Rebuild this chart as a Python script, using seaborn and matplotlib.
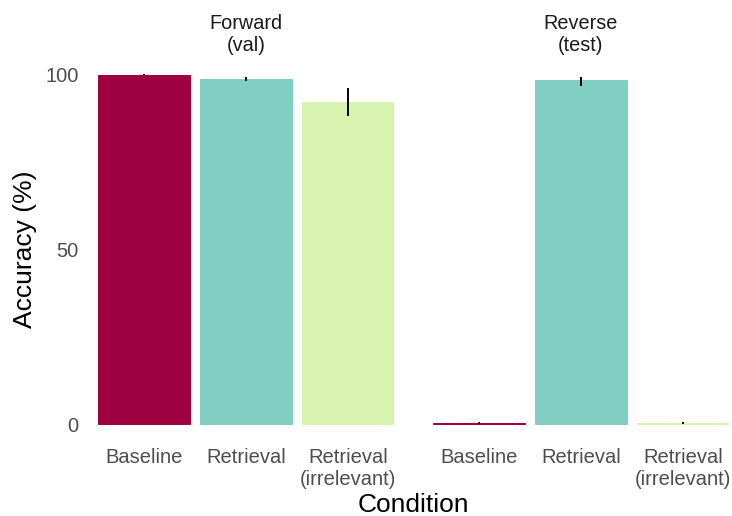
import matplotlib
matplotlib.use("Agg")
import matplotlib.pyplot as plt
import seaborn as sns
import pandas as pd
import numpy as np

sns.set_theme(style="white")
plt.rcParams["font.family"] = ["Liberation Sans", "DejaVu Sans"]

# Data
splits = ["Forward\n(val)", "Reverse\n(test)"]
conditions = ["Baseline", "Retrieval", "Retrieval\n(irrelevant)"]
forward_acc = [100.0, 98.8, 92.2]
forward_lo = [99.9, 98.4, 88.2]
forward_hi = [100.2, 99.5, 96.3]
reverse_acc = [0.3, 98.6, 0.3]
reverse_lo = [0.1, 96.9, 0.0]
reverse_hi = [0.5, 99.5, 0.7]
palette = ["#9F003F", "#81CFC2", "#D8F4B0"]

means = [forward_acc, reverse_acc]
lows = [forward_lo, reverse_lo]
highs = [forward_hi, reverse_hi]

W, H = 732, 516
fig = plt.figure(figsize=(W / 100, H / 100), dpi=100)

unit = 102.0
xlim = (-0.45, 2.45)
panel_w = (xlim[1] - xlim[0]) * unit
panel_lefts = [98.0, 433.0]
y_top_px, y_bot_px = 57.5, 441.5

for i, split in enumerate(splits):
    ax = fig.add_axes([panel_lefts[i] / W, (H - y_bot_px) / H,
                       panel_w / W, (y_bot_px - y_top_px) / H])
    df = pd.DataFrame({"Condition": conditions, "Accuracy": means[i]})
    sns.barplot(data=df, x="Condition", y="Accuracy", hue="Condition",
                order=conditions, hue_order=conditions, palette=palette,
                errorbar=None, width=0.9, legend=False, ax=ax,
                saturation=1, linewidth=0)
    # a hairline outline in the fill colour keeps near-zero bars visible
    for p in ax.patches:
        p.set_edgecolor(p.get_facecolor())
        p.set_linewidth(0.7)
    xs = np.arange(len(conditions))
    ax.vlines(xs, lows[i], highs[i], color="black", linewidth=1.4, zorder=3)
    ax.set_xlim(*xlim)
    ax.set_ylim(-5, 105)
    ax.set_yticks([0, 50, 100])
    ax.set_xlabel("")
    ax.set_ylabel("")
    for s in ax.spines.values():
        s.set_visible(False)
    ax.tick_params(axis="x", length=0, pad=5, labelsize=14.5, colors="#4D4D4D")
    ax.tick_params(axis="y", length=0, pad=14, labelsize=14.5, colors="#4D4D4D")
    ax.set_title(split, fontsize=14.3, color="#1A1A1A", pad=5, linespacing=1.15)
    if i == 1:
        ax.set_yticklabels([])
    for lab in ax.get_xticklabels():
        lab.set_linespacing(1.15)

fig.text(413.5 / W, 1 - 505 / H, "Condition", ha="center", va="center",
         fontsize=19, color="black")
fig.text(25 / W, 1 - 249.5 / H, "Accuracy (%)", ha="center", va="center",
         rotation=90, fontsize=19, color="black")

fig.savefig("out.png", dpi=100, facecolor="white")
